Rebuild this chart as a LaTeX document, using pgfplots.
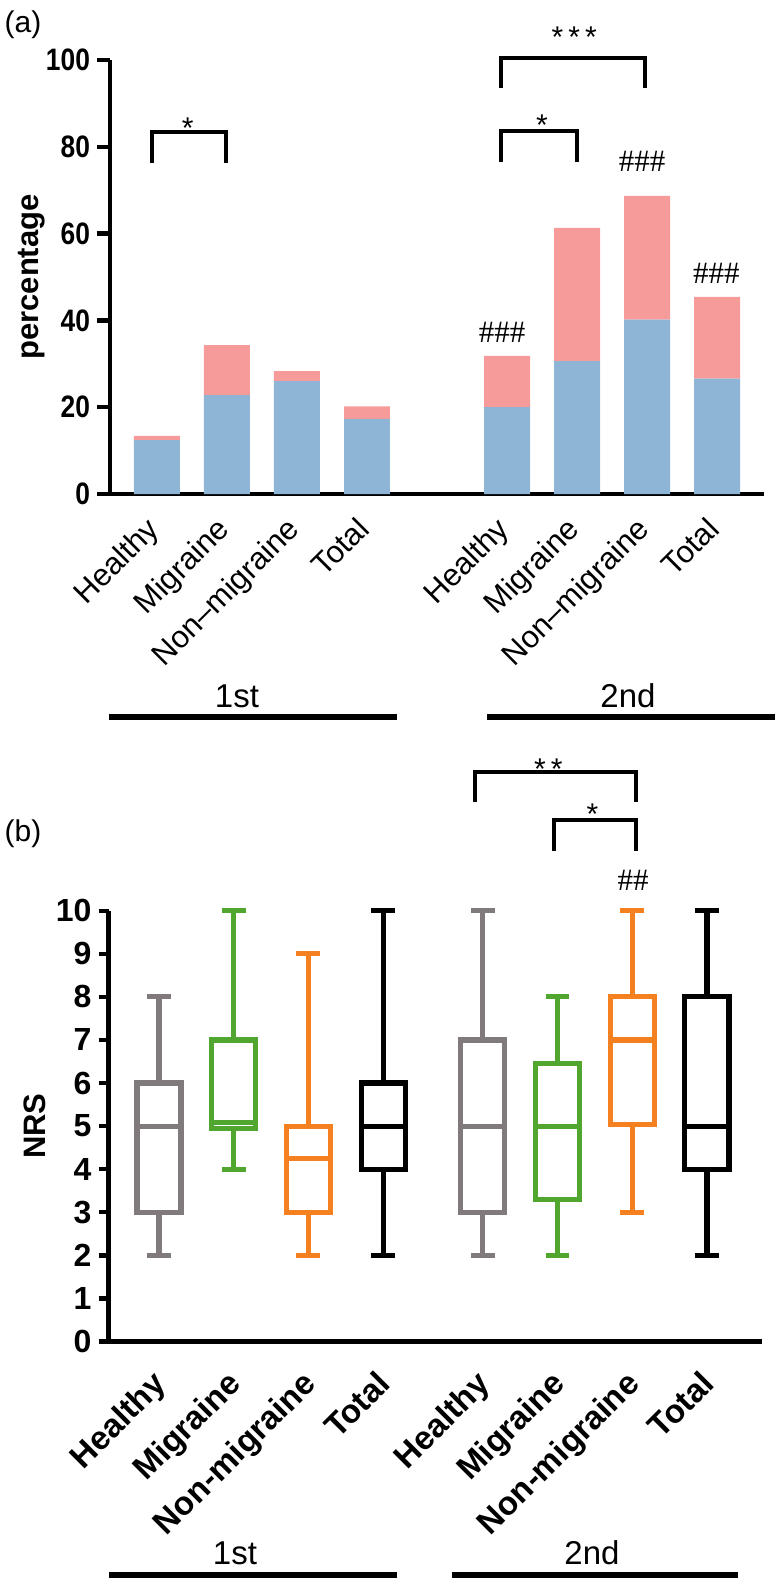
\documentclass[border=0pt]{standalone}
\usepackage{fontspec}
\setmainfont{Liberation Sans}
\newfontfamily\condfont[FakeStretch=0.85]{Liberation Sans}
\newfontfamily\seriffont{Liberation Serif}
\usepackage{pgfplots}
\pgfplotsset{compat=1.18}
\usepgfplotslibrary{statistics}
\definecolor{barblue}{RGB}{142,180,214}
\definecolor{barpink}{RGB}{246,154,154}
\definecolor{bgray}{RGB}{128,122,124}
\definecolor{bgreen}{RGB}{80,166,46}
\definecolor{borange}{RGB}{245,128,32}
\begin{document}
\begin{tikzpicture}
\path[use as bounding box] (0,0) rectangle (390pt,-792pt);
\node[font=\fontsize{15}{16}\selectfont] at (11.5pt,-12.5pt) {(a)};
\node[font=\fontsize{15}{16}\selectfont] at (11.5pt,-416.7pt) {(b)};
% ---------------- panel (a)
\begin{axis}[
  at={(55pt,-247pt)}, anchor=south west, scale only axis,
  width=327pt, height=217pt,
  xmin=-0.671, xmax=8.671, ymin=0, ymax=100,
  axis lines*=left, axis line style={line width=2.2pt, -},
  ytick={0,20,...,100},
  xtick={0,1,2,3,5,6,7,8},
  xticklabels={Healthy,Migraine,Non–migraine,Total,Healthy,Migraine,Non–migraine,Total},
  x tick style={draw=none},
  y tick style={line width=2.2pt, black},
  tick align=outside, major tick length=6.5pt,
  /pgf/number format/assume math mode=true,
  yticklabel style={font=\condfont\bfseries\fontsize{15.5}{16}\selectfont},
  xticklabel style={font=\fontsize{15.5}{16}\selectfont, xshift=-6pt, yshift=-2.5pt, rotate=45, anchor=north east, inner sep=1pt},
  ylabel={percentage},
  ylabel style={font=\bfseries\fontsize{15.5}{16}\selectfont, at={(axis description cs:-0.1193,0.5)}, anchor=center},
  ybar stacked, bar width=0.657,
  clip=false,
]
\addplot[fill=barblue, draw=none] coordinates {(0,12.4) (1,22.8) (2,26.0) (3,17.3) (5,20.0) (6,30.6) (7,40.2) (8,26.6)};
\addplot[fill=barpink, draw=none] coordinates {(0,1.0) (1,11.5) (2,2.3) (3,2.9) (5,11.8) (6,30.7) (7,28.5) (8,18.8)};
\draw[line width=2pt] (axis cs:-0.07,76.3) -- (axis cs:-0.07,83.5) -- (axis cs:0.98,83.5) -- (axis cs:0.98,76.3);
\draw[line width=2pt] (axis cs:4.92,93.5) -- (axis cs:4.92,100.4) -- (axis cs:6.97,100.4) -- (axis cs:6.97,93.5);
\draw[line width=2pt] (axis cs:4.92,76.6) -- (axis cs:4.92,83.6) -- (axis cs:6.0,83.6) -- (axis cs:6.0,76.6);
\node[anchor=base, inner sep=0pt, font=\fontsize{15}{16}\selectfont] at (axis cs:0.44,82.0) {*};
\node[anchor=base, inner sep=0pt, font=\fontsize{15}{16}\selectfont] at (axis cs:5.96,102.8) {*\,*\,*};
\node[anchor=base, inner sep=0pt, font=\fontsize{15}{16}\selectfont] at (axis cs:5.5,82.5) {*};
\node[anchor=base, inner sep=0pt, font=\seriffont\fontsize{15.5}{16}\selectfont] at (axis cs:4.93,34.8) {\#\#\#};
\node[anchor=base, inner sep=0pt, font=\seriffont\fontsize{15.5}{16}\selectfont] at (axis cs:6.93,74.4) {\#\#\#};
\node[anchor=base, inner sep=0pt, font=\seriffont\fontsize{15.5}{16}\selectfont] at (axis cs:7.99,48.6) {\#\#\#};
\end{axis}
\draw[line width=3pt] (54.5pt,-358.5pt) -- (198.5pt,-358.5pt);
\draw[line width=3pt] (243.5pt,-358.5pt) -- (387.5pt,-358.5pt);
\node[font=\fontsize{16.5}{17}\selectfont] at (118.5pt,-348pt) {1st};
\node[font=\fontsize{16.5}{17}\selectfont] at (314pt,-348pt) {2nd};
% ---------------- panel (b)
\begin{axis}[
  at={(54.25pt,-670.75pt)}, anchor=south west, scale only axis,
  width=326.75pt, height=215.4pt,
  xmin=-0.676, xmax=8.07, ymin=0, ymax=10,
  axis lines*=left, axis line style={line width=2.2pt, -},
  ytick={0,1,...,10},
  xtick={0,1,2,3,4.333,5.333,6.333,7.333},
  xticklabels={Healthy,Migraine,Non-migraine,Total,Healthy,Migraine,Non-migraine,Total},
  x tick style={draw=none},
  y tick style={line width=2.2pt, black},
  tick align=outside, major tick length=5pt,
  /pgf/number format/assume math mode=true,
  yticklabel style={font=\bfseries\fontsize{16}{17}\selectfont},
  xticklabel style={font=\bfseries\fontsize{16.5}{17}\selectfont, xshift=-4pt, yshift=-7pt, rotate=45, anchor=north east, inner sep=1pt},
  ylabel={NRS},
  ylabel style={font=\bfseries\fontsize{15.5}{16}\selectfont, at={(axis description cs:-0.1125,0.5)}, anchor=center},
  clip=false,
  boxplot/draw direction=y,
  boxplot/box extend=0.59, boxplot/whisker extend=0.32,
]
\addplot[bgray, line width=2.6pt, boxplot prepared={draw position=0, lower whisker=2, lower quartile=3, median=5, upper quartile=6, upper whisker=8}] coordinates {};
\addplot[bgreen, line width=2.6pt, boxplot prepared={draw position=1, lower whisker=4, lower quartile=4.95, median=5.08, upper quartile=7, upper whisker=10}] coordinates {};
\addplot[borange, line width=2.6pt, boxplot prepared={draw position=2, lower whisker=2, lower quartile=3, median=4.25, upper quartile=5, upper whisker=9}] coordinates {};
\addplot[black, line width=2.6pt, boxplot prepared={draw position=3, lower whisker=2, lower quartile=4, median=5, upper quartile=6, upper whisker=10}] coordinates {};
\addplot[bgray, line width=2.6pt, boxplot prepared={draw position=4.333, lower whisker=2, lower quartile=3, median=5, upper quartile=7, upper whisker=10}] coordinates {};
\addplot[bgreen, line width=2.6pt, boxplot prepared={draw position=5.333, lower whisker=2, lower quartile=3.3, median=5, upper quartile=6.45, upper whisker=8}] coordinates {};
\addplot[borange, line width=2.6pt, boxplot prepared={draw position=6.333, lower whisker=3, lower quartile=5.03, median=7, upper quartile=8, upper whisker=10}] coordinates {};
\addplot[black, line width=2.6pt, boxplot prepared={draw position=7.333, lower whisker=2, lower quartile=4, median=5, upper quartile=8, upper whisker=10}] coordinates {};
\draw[line width=2pt] (axis cs:4.23,12.52) -- (axis cs:4.23,13.22) -- (axis cs:6.385,13.22) -- (axis cs:6.385,12.52);
\draw[line width=2pt] (axis cs:5.29,11.39) -- (axis cs:5.29,12.11) -- (axis cs:6.385,12.11) -- (axis cs:6.385,11.39);
\node[anchor=base, inner sep=0pt, font=\fontsize{15}{16}\selectfont] at (axis cs:5.21,13.04) {*\,*};
\node[anchor=base, inner sep=0pt, font=\fontsize{15}{16}\selectfont] at (axis cs:5.80,12.0) {*};
\node[anchor=base, inner sep=0pt, font=\seriffont\fontsize{15.5}{16}\selectfont] at (axis cs:6.345,10.48) {\#\#};
\end{axis}
\draw[line width=3pt] (54.5pt,-787.5pt) -- (198.5pt,-787.5pt);
\draw[line width=3pt] (226pt,-787.5pt) -- (369pt,-787.5pt);
\node[font=\fontsize{16.5}{17}\selectfont] at (117.5pt,-776.5pt) {1st};
\node[font=\fontsize{16.5}{17}\selectfont] at (296pt,-776.5pt) {2nd};
\end{tikzpicture}
\end{document}
